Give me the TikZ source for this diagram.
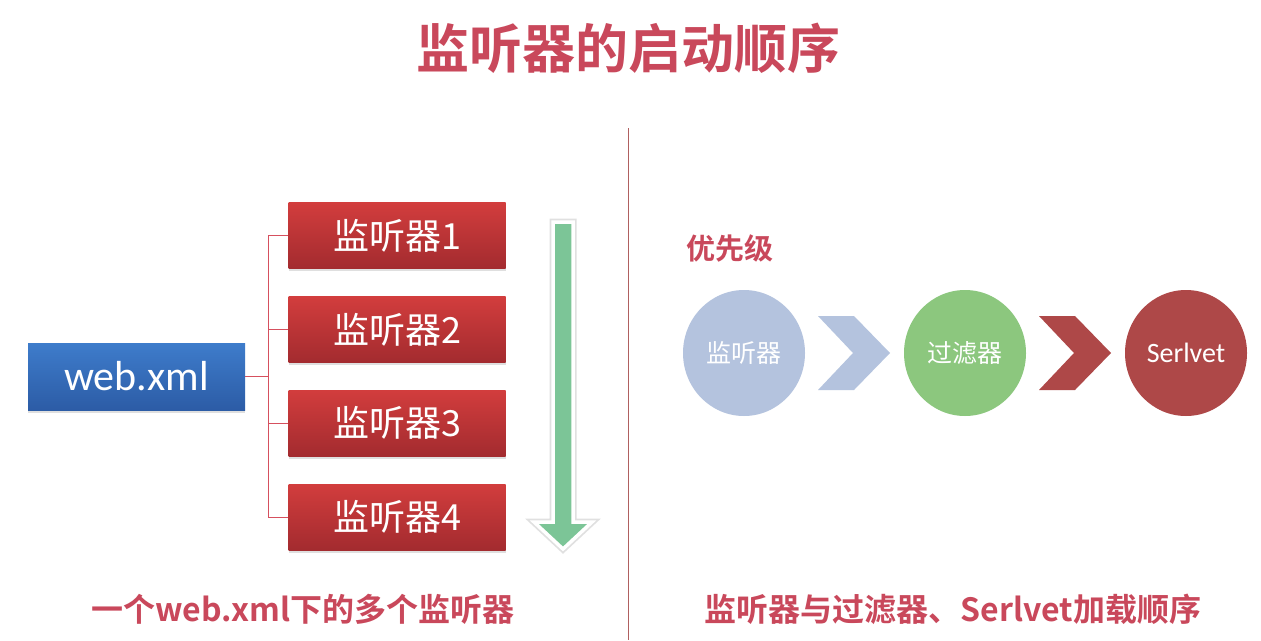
\documentclass[tikz,border=0pt]{standalone}
\usepackage{fontspec}
\newfontfamily\cjk{Noto Sans CJK SC}
\newfontfamily\cjkb{Noto Sans CJK SC Bold}
\newfontfamily\lat{Carlito}
\usetikzlibrary{shadows}
\definecolor{titlered}{HTML}{C9485B}
\definecolor{boxtop}{HTML}{D23D3D}
\definecolor{boxbot}{HTML}{A32B2F}
\definecolor{bluetop}{HTML}{3E7CCB}
\definecolor{bluebot}{HTML}{2C5CA6}
\definecolor{conncol}{HTML}{D6505E}
\definecolor{arrowgreen}{HTML}{7CC597}
\definecolor{lisblue}{HTML}{B4C3DE}
\definecolor{filgreen}{HTML}{8CC77E}
\definecolor{servred}{HTML}{AE4848}
\definecolor{divcol}{HTML}{B06060}
\tikzset{
  redbox/.style={rectangle, minimum width=217pt, minimum height=66pt, inner sep=0pt,
    top color=boxtop, bottom color=boxbot, text=white,
    drop shadow={opacity=0.25, shadow xshift=0pt, shadow yshift=-2.5pt},
    font=\cjk\fontsize{36}{40}\selectfont},
  bluebox/.style={rectangle, minimum width=217pt, minimum height=67pt, inner sep=0pt,
    top color=bluetop, bottom color=bluebot, text=white,
    drop shadow={opacity=0.25, shadow xshift=0pt, shadow yshift=-2.5pt},
    font=\lat\fontsize{42}{46}\selectfont},
  conn/.style={draw=conncol, line width=0.9pt},
  circ/.style={ellipse, minimum width=122pt, minimum height=126pt, inner sep=0pt, text=white},
  chev/.style={line width=0pt},
  heading/.style={text=titlered, font=\cjkb\fontsize{32}{36}\selectfont, inner sep=0pt},
}
\usetikzlibrary{shapes.geometric}
\begin{document}
\begin{tikzpicture}[x=1pt,y=-1pt]
\useasboundingbox[fill=white] (0,0) rectangle (1261,640);
% title
\node[text=titlered, font=\cjkb\fontsize{53}{56}\selectfont, inner sep=0pt] (title) at (628,48) {监听器的启动顺序};
% divider
\draw[divcol, line width=0.9pt] (628,128) -- (628,640);
% left part
\node[bluebox] (web) at (136.5,376.5) {web.xml};
\node[redbox] (l1) at (397,235.5) {监听器1};
\node[redbox] (l2) at (397,329.5) {监听器2};
\node[redbox] (l3) at (397,423) {监听器3};
\node[redbox] (l4) at (397,517) {监听器4};
\coordinate (jn) at (268,376.5);
\draw[conn] (web.east) -- (jn);
\draw[conn] (jn) |- (l1.west);
\draw[conn] (jn) |- (l2.west);
\draw[conn] (jn) |- (l3.west);
\draw[conn] (jn) |- (l4.west);
% green arrow
\path[draw=black!12, line width=7pt, line join=miter]
  (553,222) -- (573,222) -- (573,522) -- (592,522) -- (563,549) -- (534,522) -- (553,522) -- cycle;
\path[draw=white, fill=arrowgreen, line width=3.5pt, line join=miter]
  (553,222) -- (573,222) -- (573,522) -- (592,522) -- (563,549) -- (534,522) -- (553,522) -- cycle;
% captions
\node[heading] (capl) at (303,609) {一个web.xml下的多个监听器};
\node[heading] (capr) at (953,609) {监听器与过滤器、Serlvet加载顺序};
% right part
\node[heading, font=\cjkb\fontsize{29}{32}\selectfont, anchor=west] (prio) at (686,248) {优先级};
\node[circ, fill=lisblue, font=\cjk\fontsize{25}{28}\selectfont] (c1) at (744,353) {监听器};
\node[circ, fill=filgreen, font=\cjk\fontsize{25}{28}\selectfont] (c2) at (965,353) {过滤器};
\node[circ, fill=servred, font=\lat\fontsize{28}{30}\selectfont] (c3) at (1186,353) {Serlvet};
\fill[lisblue] (818,316) -- (854,316) -- (890,353) -- (854,390) -- (818,390) -- (853,353) -- cycle;
\fill[servred] (1039,316) -- (1075,316) -- (1111,353) -- (1075,390) -- (1039,390) -- (1074,353) -- cycle;
\end{tikzpicture}
\end{document}
